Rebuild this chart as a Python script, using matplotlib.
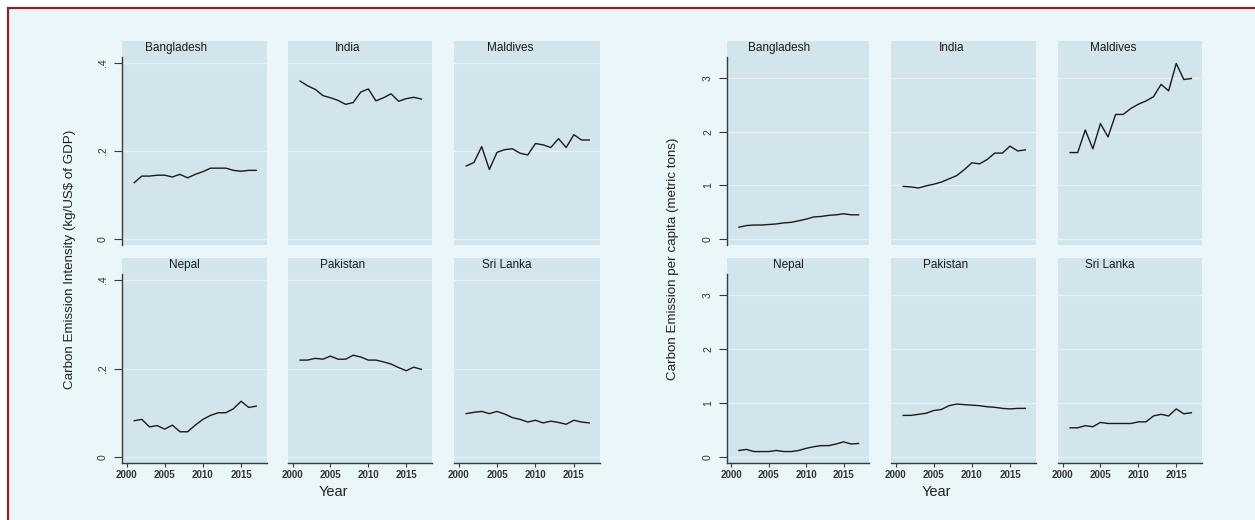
import matplotlib
matplotlib.use("Agg")
import matplotlib.pyplot as plt
from matplotlib.patches import Rectangle
from matplotlib.ticker import FixedLocator, FixedFormatter

plt.rcParams["font.family"] = ["Liberation Sans", "DejaVu Sans"]

YEARS = list(range(2001, 2018))
COUNTRIES = ["Bangladesh", "India", "Maldives", "Nepal", "Pakistan", "Sri Lanka"]

# carbon emission intensity (kg/US$ of GDP)
INTENSITY = {
    "Bangladesh": [.128, .143, .143, .145, .145, .141, .147, .139, .147, .153,
                   .161, .161, .161, .156, .154, .156, .156],
    "India": [.359, .348, .340, .326, .321, .315, .306, .310, .334, .341,
              .314, .321, .330, .313, .319, .322, .318],
    "Maldives": [.166, .174, .210, .158, .197, .203, .205, .195, .191, .217,
                 .214, .208, .228, .208, .237, .225, .225],
    "Nepal": [.082, .085, .068, .071, .063, .072, .057, .057, .072, .085,
              .094, .100, .100, .109, .126, .112, .115],
    "Pakistan": [.219, .219, .223, .221, .228, .221, .221, .230, .226, .219,
                 .219, .215, .210, .202, .195, .203, .198],
    "Sri Lanka": [.098, .101, .103, .098, .103, .097, .089, .085, .079, .083,
                  .077, .081, .078, .074, .083, .079, .077],
}

# carbon emission per capita (metric tons)
PER_CAPITA = {
    "Bangladesh": [.22, .25, .26, .26, .27, .28, .30, .31, .34, .37,
                   .41, .42, .44, .45, .47, .45, .45],
    "India": [.98, .97, .95, .99, 1.02, 1.06, 1.12, 1.18, 1.29, 1.42,
              1.40, 1.48, 1.60, 1.60, 1.73, 1.64, 1.66],
    "Maldives": [1.61, 1.61, 2.03, 1.68, 2.15, 1.90, 2.32, 2.32, 2.43, 2.51,
                 2.57, 2.65, 2.88, 2.76, 3.27, 2.97, 2.99],
    "Nepal": [.12, .14, .10, .10, .10, .12, .10, .10, .12, .16,
              .19, .21, .21, .24, .28, .24, .25],
    "Pakistan": [.77, .77, .79, .81, .86, .88, .95, .98, .97, .96,
                 .95, .93, .92, .90, .89, .90, .90],
    "Sri Lanka": [.54, .54, .58, .56, .64, .62, .62, .62, .62, .65,
                  .65, .76, .79, .76, .89, .80, .82],
}

INT_TICKS = [0, .2, .4]
INT_LABELS = ["0", ".2", ".4"]
PC_TICKS = [0, 1, 2, 3]
PC_LABELS = ["0", "1", "2", "3"]
X_TICKS = [2000, 2005, 2010, 2015]

W, H = 1255, 520
BG = "#eaf6fa"
PANEL = "#d2e5ed"
GRID = "#e6f1f5"
INK = "#1a1a1a"
AXC = "#3a3a3a"

fig = plt.figure(figsize=(W / 100, H / 100), dpi=100)
fig.patch.set_facecolor("white")
fig.patches.append(Rectangle((8 / W, -0.3), 1.5, 1.3 - 8 / H,
                             transform=fig.transFigure, facecolor=BG,
                             edgecolor="#772b2b", lw=1.6, zorder=-5))

ROWS = [(41, 57, 245), (258, 274, 463)]  # strip top, plot top, plot bottom


def fbox(x0, x1, y0, y1):
    return [x0 / W, 1 - y1 / H, (x1 - x0) / W, (y1 - y0) / H]


def draw_block(cols, data, yticks, ylabels, ylim, ytitle, ytitle_x, year_x):
    for i, name in enumerate(COUNTRIES):
        r, c = divmod(i, 3)
        x0, x1 = cols[c]
        st, pt, pb = ROWS[r]
        fig.patches.append(Rectangle((x0 / W, 1 - pt / H), (x1 - x0) / W, (pt - st) / H,
                                     transform=fig.transFigure, facecolor=PANEL,
                                     edgecolor="none", zorder=-1))
        ax = fig.add_axes(fbox(x0, x1, pt, pb))
        ax.set_facecolor(PANEL)
        ax.plot(YEARS, data[name], color=INK, lw=1.0, zorder=3)
        ax.set_xlim(1999.4, 2018.4)
        ax.set_ylim(*ylim)
        for v in yticks:
            ax.axhline(v, color=GRID, lw=0.9, zorder=1)
        for s in ax.spines.values():
            s.set_visible(False)
        ax.yaxis.set_major_locator(FixedLocator(yticks))
        ax.yaxis.set_major_formatter(FixedFormatter(ylabels))
        ax.xaxis.set_major_locator(FixedLocator(X_TICKS))
        if c == 0:
            ax.spines["left"].set_visible(True)
            ax.spines["left"].set_color(AXC)
            ax.spines["left"].set_linewidth(1.0)
            ax.tick_params(axis="y", length=6, width=0.8, color=AXC, pad=4,
                           labelsize=7.5, labelcolor="#333333", labelrotation=90)
            for lab in ax.get_yticklabels():
                lab.set_va("center")
        else:
            ax.tick_params(axis="y", left=False, labelleft=False)
        if r == 1:
            ax.spines["bottom"].set_visible(True)
            ax.spines["bottom"].set_color(AXC)
            ax.spines["bottom"].set_linewidth(1.0)
            ax.tick_params(axis="x", length=3, width=0.8, color=AXC, pad=2,
                           labelsize=7, labelcolor="#333333")
            for lab in ax.get_xticklabels():
                lab.set_fontweight("bold")
        else:
            ax.tick_params(axis="x", bottom=False, labelbottom=False)
        # panel title
        left = (x0 + x1) / 2 - 5.0 * len(name)
        fig.text(left / W, 1 - (st + 7) / H, name, ha="left", va="center",
                 fontsize=8.5, color=INK)
    fig.text(ytitle_x / W, 1 - 259 / H, ytitle, rotation=90, ha="center",
             va="center", fontsize=9.6, color="#222222")
    fig.text(year_x / W, 1 - 492 / H, "Year", ha="center", va="center",
             fontsize=10.5, color="#222222")


draw_block([(122, 267), (288, 432), (454, 600)], INTENSITY, INT_TICKS, INT_LABELS,
           (-0.0136, 0.4136), "Carbon Emission Intensity (kg/US$ of GDP)", 70, 333)
draw_block([(727, 869), (891, 1036), (1058, 1202)], PER_CAPITA, PC_TICKS, PC_LABELS,
           (-0.112, 3.39), "Carbon Emission per capita (metric tons)", 673, 936)

fig.savefig("out.png", dpi=100)
